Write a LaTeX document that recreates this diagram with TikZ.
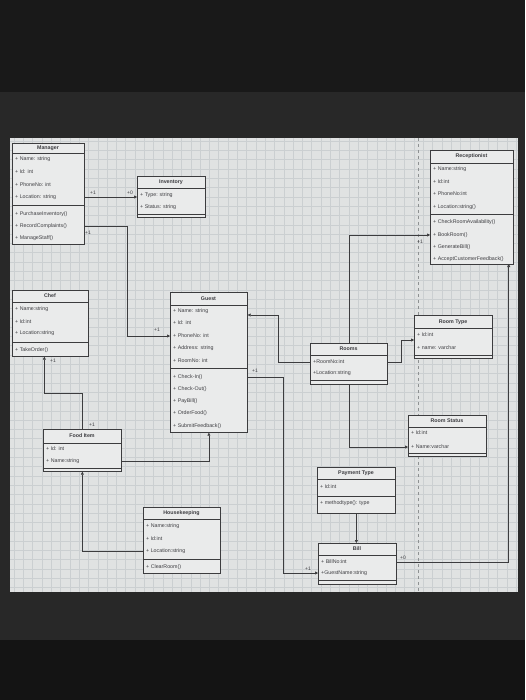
\documentclass[tikz,border=0pt]{standalone}
\usepackage{fontspec}
\setmainfont{Liberation Sans}
\usetikzlibrary{arrows.meta}

\definecolor{bezel}{RGB}{40,40,40}
\definecolor{canvas}{RGB}{224,226,226}
\definecolor{gridc}{RGB}{203,207,209}
\definecolor{boxfill}{RGB}{234,235,235}
\definecolor{boxline}{RGB}{60,60,62}
\definecolor{txt}{RGB}{62,62,66}

\begin{document}
\begin{tikzpicture}[x=1pt,y=-1pt,
  cls/.style={draw=boxline,fill=boxfill,line width=.7pt,anchor=north west,inner sep=0pt},
  ttl/.style={font=\fontsize{5.3}{6}\selectfont\bfseries,text=txt,inner sep=0pt},
  mem/.style={anchor=west,font=\fontsize{5.3}{6}\selectfont,text=txt,inner sep=0pt},
  mult/.style={font=\fontsize{5}{6}\selectfont,text=txt,inner sep=0pt},
  sep/.style={draw=boxline,line width=.6pt},
  link/.style={draw=boxline,line width=.6pt,-{Triangle[length=3pt,width=3pt]}}]

  \useasboundingbox (0,0) rectangle (525,700);
  \fill[bezel] (0,0) rectangle (525,700);
  \fill[black!90] (0,0) rectangle (525,92);
  \fill[black!92] (0,640) rectangle (525,700);
  \fill[canvas] (10,138) rectangle (518,592);
  \foreach \gx in {14,23.3,...,518}
    \draw[gridc,line width=.3pt] (\gx,138) -- (\gx,592);
  \foreach \gy in {141,150.3,...,592}
    \draw[gridc,line width=.3pt] (10,\gy) -- (518,\gy);
  \draw[gridc!70!black,dashed,line width=.4pt] (418,138) -- (418,592);

  %% Manager
  \node[cls,minimum width=72pt,minimum height=101pt] (manager) at (12,143) {};
  \node[ttl] (managert) at (48,148) {Manager};
  \draw[sep] (12,153) -- (84,153);
  \node[mem] (mgrname) at (15,159) {+ Name: string};
  \node[mem] (mgrid) at (15,172) {+ Id: int};
  \node[mem] (mgrphone) at (15,185) {+ PhoneNo: int};
  \node[mem] (mgrloc) at (15,197) {+ Location: string};
  \draw[sep] (12,205) -- (84,205);
  \node[mem] (mgrbuy) at (15,214) {+ PurchaseInventory()};
  \node[mem] (mgrrec) at (15,226) {+ RecordComplaints()};
  \node[mem] (mgrstaff) at (15,238) {+ ManageStaff()};

  %% Inventory
  \node[cls,minimum width=68pt,minimum height=41pt] (inventory) at (137,176) {};
  \node[ttl] (inventoryt) at (171,182) {Inventory};
  \draw[sep] (137,188) -- (205,188);
  \node[mem] (invtype) at (140,195) {+ Type: string};
  \node[mem] (invstatus) at (140,207) {+ Status: string};
  \draw[sep] (137,214) -- (205,214);

  %% Receptionist
  \node[cls,minimum width=83pt,minimum height=114pt] (recep) at (430,150) {};
  \node[ttl] (recept) at (471.5,156.5) {Receptionist};
  \draw[sep] (430,163) -- (513,163);
  \node[mem] (recname) at (433,169) {+ Name:string};
  \node[mem] (recid) at (433,182) {+ Id:int};
  \node[mem] (recphone) at (433,194) {+ PhoneNo:int};
  \node[mem] (recloc) at (433,207) {+ Location:string()};
  \draw[sep] (430,214) -- (513,214);
  \node[mem] (reccheck) at (433,222) {+ CheckRoomAvailability()};
  \node[mem] (recbook) at (433,235) {+ BookRoom()};
  \node[mem] (recbill) at (433,247) {+ GenerateBill()};
  \node[mem] (recfeed) at (433,259) {+ AcceptCustomerFeedback()};

  %% Chef
  \node[cls,minimum width=76pt,minimum height=66pt] (chef) at (12,290) {};
  \node[ttl] (cheft) at (50,296) {Chef};
  \draw[sep] (12,302) -- (88,302);
  \node[mem] (chefname) at (15,309) {+ Name:string};
  \node[mem] (chefid) at (15,322) {+ Id:int};
  \node[mem] (chefloc) at (15,333) {+ Location:string};
  \draw[sep] (12,342) -- (88,342);
  \node[mem] (cheforder) at (15,350) {+ TakeOrder()};

  %% Guest
  \node[cls,minimum width=77pt,minimum height=140pt] (guest) at (170,292) {};
  \node[ttl] (guestt) at (208.5,298.5) {Guest};
  \draw[sep] (170,305) -- (247,305);
  \node[mem] (gname) at (173,311) {+ Name: string};
  \node[mem] (gid) at (173,323) {+ Id: int};
  \node[mem] (gphone) at (173,336) {+ PhoneNo: int};
  \node[mem] (gaddr) at (173,348) {+ Address: string};
  \node[mem] (groom) at (173,361) {+ RoomNo: int};
  \draw[sep] (170,368) -- (247,368);
  \node[mem] (gin) at (173,377) {+ Check-In()};
  \node[mem] (gout) at (173,389) {+ Check-Out()};
  \node[mem] (gpay) at (173,401) {+ PayBill()};
  \node[mem] (gfood) at (173,413) {+ OrderFood()};
  \node[mem] (gfeed) at (173,426) {+ SubmitFeedback()};

  %% Rooms
  \node[cls,minimum width=77pt,minimum height=41pt] (rooms) at (310,343) {};
  \node[ttl] (roomst) at (348.5,349) {Rooms};
  \draw[sep] (310,355) -- (387,355);
  \node[mem] (rno) at (313,362) {+RoomNo:int};
  \node[mem] (rloc) at (313,373) {+Location:string};
  \draw[sep] (310,380) -- (387,380);

  %% Room Type
  \node[cls,minimum width=78pt,minimum height=43pt] (rtype) at (414,315) {};
  \node[ttl] (rtypet) at (453,322) {Room Type};
  \draw[sep] (414,328) -- (492,328);
  \node[mem] (rtid) at (417,335) {+ Id:int};
  \node[mem] (rtname) at (417,348) {+ name: varchar};
  \draw[sep] (414,355) -- (492,355);

  %% Room Status
  \node[cls,minimum width=78pt,minimum height=41pt] (rstatus) at (408,415) {};
  \node[ttl] (rstatust) at (447,421) {Room Status};
  \draw[sep] (408,427) -- (486,427);
  \node[mem] (rsid) at (411,433) {+ Id:int};
  \node[mem] (rsname) at (411,447) {+ Name:varchar};
  \draw[sep] (408,453) -- (486,453);

  %% Food Item
  \node[cls,minimum width=78pt,minimum height=42pt] (food) at (43,429) {};
  \node[ttl] (foodt) at (82,436) {Food Item};
  \draw[sep] (43,443) -- (121,443);
  \node[mem] (fid) at (46,449) {+ Id: int};
  \node[mem] (fname) at (46,461) {+ Name:string};
  \draw[sep] (43,468) -- (121,468);

  %% Payment Type
  \node[cls,minimum width=78pt,minimum height=46pt] (payment) at (317,467) {};
  \node[ttl] (paymentt) at (356,473) {Payment Type};
  \draw[sep] (317,479) -- (395,479);
  \node[mem] (pid) at (320,487) {+ Id:int};
  \draw[sep] (317,496) -- (395,496);
  \node[mem] (pmethod) at (320,503) {+ methodtype(): type};

  %% Housekeeping
  \node[cls,minimum width=77pt,minimum height=66pt] (hk) at (143,507) {};
  \node[ttl] (hkt) at (181.5,513) {Housekeeping};
  \draw[sep] (143,519) -- (220,519);
  \node[mem] (hkname) at (146,526) {+ Name:string};
  \node[mem] (hkid) at (146,539) {+ Id:int};
  \node[mem] (hkloc) at (146,551) {+ Location:string};
  \draw[sep] (143,559) -- (220,559);
  \node[mem] (hkclear) at (146,567) {+ ClearRoom()};

  %% Bill
  \node[cls,minimum width=78pt,minimum height=41pt] (bill) at (318,543) {};
  \node[ttl] (billt) at (357,549) {Bill};
  \draw[sep] (318,555) -- (396,555);
  \node[mem] (bno) at (321,562) {+ BillNo:int};
  \node[mem] (bgname) at (321,573) {+GuestName:string};
  \draw[sep] (318,580) -- (396,580);

  %% connectors
  \draw[link] (manager.east |- mgrloc) -- (inventory.west |- mgrloc);
  \draw[link] (manager.east |- mgrrec) -- ++(43,0) |- (guest.west |- gphone);
  \draw[link] (rooms.north) |- (recep.west |- recbook);
  \draw[link] (rooms.west |- rno) -- ++(-32,0) |- ([yshift=-4pt]guest.east |- gname);
  \draw[link] (guest.east |- gin) -- ++(36,0) |- (bill.west |- bgname);
  \draw[link] (rooms.east |- rno) -- ++(14,0) |- ([yshift=-5pt]rtype.west |- rtid);
  \draw[link] (rooms.south) |- (rstatus.west |- rsname);
  \draw[link] (payment.south) -- (payment.south |- bill.north);
  \draw[link] (bill.east |- bno) -- ++(112,0) -- ++(0,-298);
  \draw[link] (food.east |- fname) -| (guest.south);
  \draw[link] (food.north) -- ++(0,-36) -| ([xshift=-6pt]chef.south);
  \draw[link] (hk.west |- hkloc) -| (food.south);

  %% multiplicities
  \node[mult] (m1) at (93,193) {+1};
  \node[mult] (m2) at (130,193) {+0};
  \node[mult] (m3) at (88,233) {+1};
  \node[mult] (m4) at (157,330) {+1};
  \node[mult] (m5) at (420,242) {+1};
  \node[mult] (m6) at (255,371) {+1};
  \node[mult] (m7) at (308,569) {+1};
  \node[mult] (m8) at (403,558) {+0};
  \node[mult] (m9) at (53,361) {+1};
  \node[mult] (m10) at (92,425) {+1};

\end{tikzpicture}
\end{document}
